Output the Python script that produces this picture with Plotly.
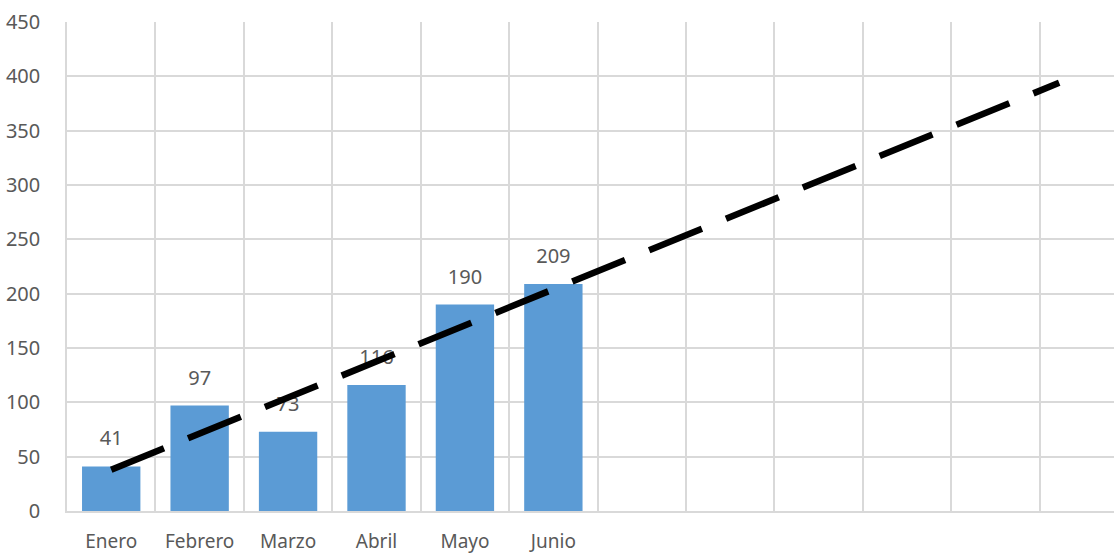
import plotly.graph_objects as go

meses = ["Enero", "Febrero", "Marzo", "Abril", "Mayo", "Junio"]
posiciones = [1, 2, 3, 4, 5, 6]
valores = [41, 97, 73, 116, 190, 209]

# linea de tendencia (inicio y fin del pronostico)
tendencia_x = [1, 11.72]
tendencia_y = [38, 394]

GRIS = "#D9D9D9"
TEXTO = "#595959"
FUENTE = "Noto Sans, Liberation Sans, sans-serif"

fig = go.Figure()
fig.add_trace(go.Bar(
    x=posiciones,
    y=valores,
    width=0.66,
    marker=dict(color="#5B9BD5", line=dict(width=0)),
))
# etiquetas de datos (marcador invisible para separarlas de la barra)
fig.add_trace(go.Scatter(
    x=posiciones,
    y=valores,
    mode="markers+text",
    text=[str(v) for v in valores],
    textposition="top center",
    textfont=dict(size=20, color=TEXTO, family=FUENTE),
    marker=dict(size=24, color="rgba(0,0,0,0)"),
    cliponaxis=False,
))
fig.add_trace(go.Scatter(
    x=tendencia_x,
    y=tendencia_y,
    mode="lines",
    line=dict(color="black", width=6.5, dash="57px,26px"),
))

fig.update_layout(
    width=1114,
    height=553,
    margin=dict(l=67, r=0, t=22, b=42),
    plot_bgcolor="white",
    paper_bgcolor="white",
    showlegend=False,
    font=dict(family=FUENTE, size=20, color=TEXTO),
    xaxis=dict(
        range=[0.5, 12.34],
        tickvals=posiciones,
        ticktext=meses,
        showgrid=False,
        showline=True,
        linecolor=GRIS,
        linewidth=1.5,
        ticks="",
        ticklabelstandoff=12,
        tickfont=dict(size=19),
        minor=dict(tick0=0.5, dtick=1, showgrid=True, gridcolor=GRIS, gridwidth=1.5),
        zeroline=False,
    ),
    yaxis=dict(
        range=[0, 450],
        tickvals=list(range(0, 451, 50)),
        showgrid=True,
        gridcolor=GRIS,
        gridwidth=1.5,
        showline=True,
        linecolor=GRIS,
        linewidth=1.5,
        ticks="",
        ticklabelstandoff=21,
        tickfont=dict(size=20),
        zeroline=False,
    ),
)

fig.write_html(
    "out.html",
    config={"displayModeBar": False},
    post_script="document.body.style.margin='0';",
)
